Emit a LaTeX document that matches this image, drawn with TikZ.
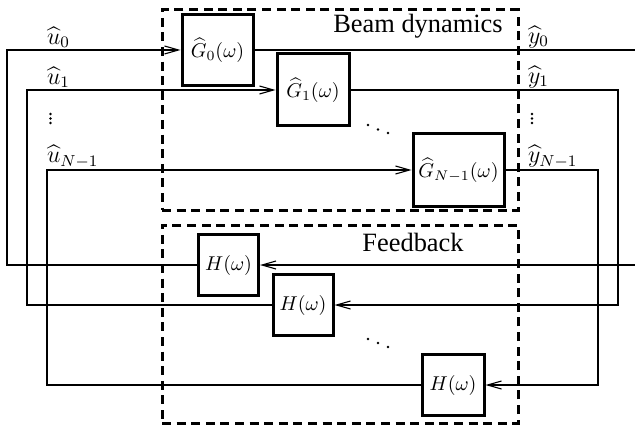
\documentclass[tikz,border=0pt]{standalone}
\usepackage{amsmath}
\usepackage{fontspec}
\newfontfamily\titlefont{Liberation Serif}
\usetikzlibrary{arrows.meta}

\tikzset{
  sysbox/.style={draw, line width=1.5pt, inner sep=0pt, font=\normalsize},
  dashbox/.style={draw, line width=1.5pt, dash pattern=on 4.5pt off 2.8pt, inner sep=0pt},
  sig/.style={line width=0.55pt},
  arr/.style={sig, -{Straight Barb[length=7pt,width=4pt,line width=0.55pt]}},
  lbl/.style={inner sep=0.8pt, font=\fontsize{11.5}{13}\selectfont},
  ttl/.style={inner sep=0pt, font=\titlefont\fontsize{13.2}{15}\selectfont},
  dot/.style={circle, fill, inner sep=0pt, minimum size=1.3pt},
}

\begin{document}
\begin{tikzpicture}[x=0.5pt, y=-0.5pt]
\useasboundingbox (0,0) rectangle (635,427);

% grouping frames
\node[dashbox, minimum width=178pt, minimum height=100pt] (beam) at (340,110) {};
\node[dashbox, minimum width=178pt, minimum height=99pt] (fb) at (340,324) {};
\node[ttl] (beamtitle) at (418,26) {Beam dynamics};
\node[ttl] (fbtitle) at (413,242) {Feedback};

% plant blocks
\node[sysbox, minimum width=35.5pt, minimum height=35.5pt] (G0) at (217.5,50) {$\widehat{G}_0(\omega)$};
\node[sysbox, minimum width=36pt, minimum height=36pt] (G1) at (313,90) {$\widehat{G}_1(\omega)$};
\node[sysbox, minimum width=45.5pt, minimum height=36pt] (GN) at (458.5,170) {$\widehat{G}_{N-1}(\omega)$};

% feedback blocks
\node[sysbox, minimum width=30pt, minimum height=30.5pt] (H0) at (228.5,265) {$H(\omega)$};
\node[sysbox, minimum width=30pt, minimum height=30.5pt] (H1) at (303,305) {$H(\omega)$};
\node[sysbox, minimum width=31pt, minimum height=30.5pt] (HN) at (453,385) {$H(\omega)$};

% diagonal ellipsis dots between blocks
\foreach \dx/\dy [count=\i] in {368/125, 378/129.5, 388/133}
  \node[dot] (dg\i) at (\dx,\dy) {};
\foreach \dx/\dy [count=\i] in {368/339, 378/343, 388/347}
  \node[dot] (dh\i) at (\dx,\dy) {};

% vertical ellipsis dots between signal labels
\foreach \dy [count=\i] in {114, 118.5, 123} {
  \node[dot] (uv\i) at (50.5,\dy) {};
  \node[dot] (yv\i) at (532,\dy) {};
}

% routing corners
\coordinate (l0) at (7,50);
\coordinate (l1) at (27,90);
\coordinate (lN) at (47,170);
\coordinate (r0) at (635,50);
\coordinate (r0b) at (635,265);
\coordinate (r1) at (618,305);
\coordinate (rN) at (598,385);

% channel 0 (wraps around the edges)
\draw[arr] (H0.west) -| (l0) -- (G0.west);
\draw[sig] (G0.east) -- (r0);
\draw[arr] (r0b) -- (H0.east);

% channel 1
\draw[arr] (H1.west) -| (l1) -- (G1.west);
\draw[arr] (G1.east) -| (r1) -- (H1.east);

% channel N-1
\draw[arr] (HN.west) -| (lN) -- (GN.west);
\draw[arr] (GN.east) -| (rN) -- (HN.east);

% signal labels
\node[lbl, anchor=south west] (u0) at (45,50) {$\widehat{u}_0$};
\node[lbl, anchor=south west] (u1) at (45,90) {$\widehat{u}_1$};
\node[lbl, anchor=south west] (uN) at (45,170) {$\widehat{u}_{N-1}$};
\node[lbl, anchor=south west] (y0) at (526,50) {$\widehat{y}_0$};
\node[lbl, anchor=south west] (y1) at (526,90) {$\widehat{y}_1$};
\node[lbl, anchor=south west] (yN) at (526,170) {$\widehat{y}_{N-1}$};
\end{tikzpicture}
\end{document}
